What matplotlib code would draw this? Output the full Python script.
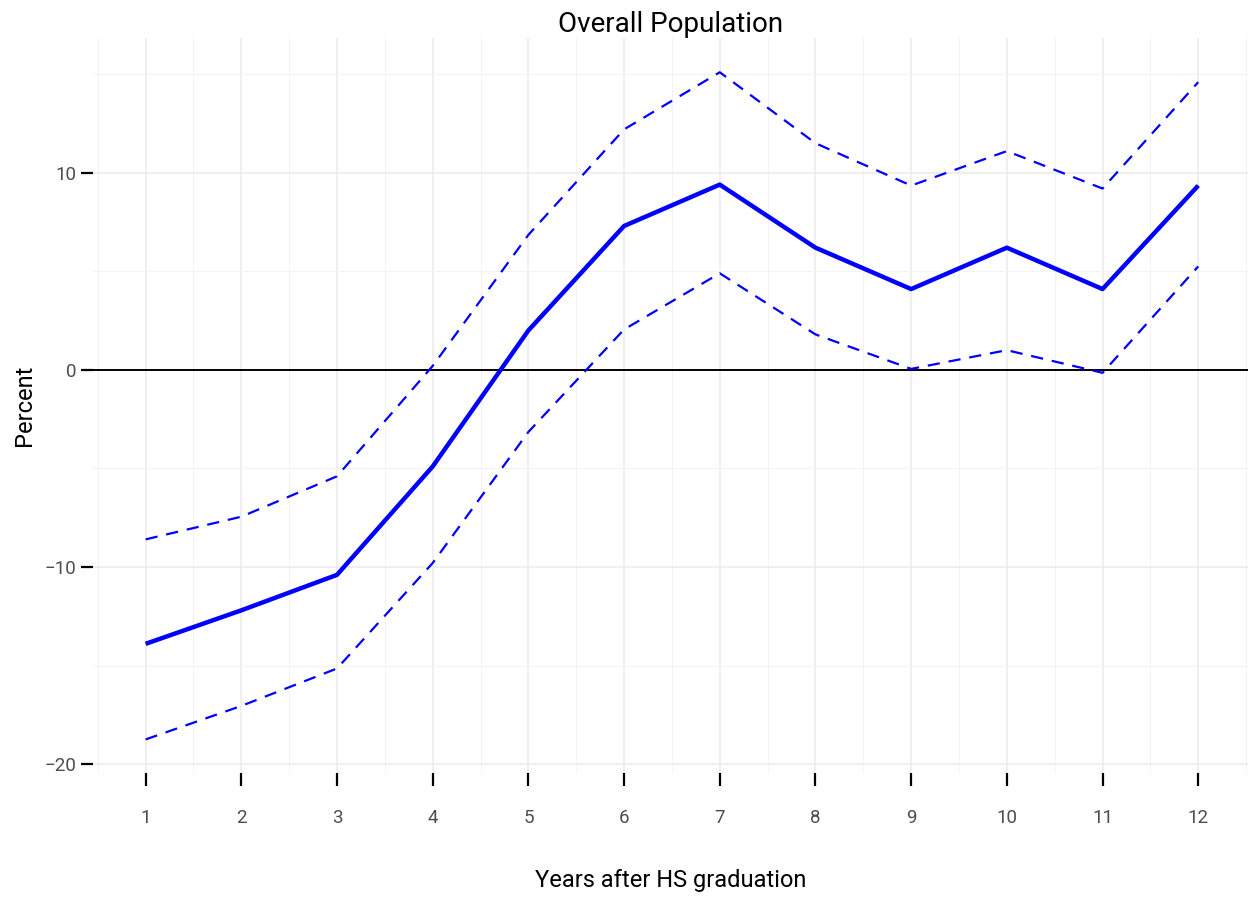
import numpy as np
import matplotlib
matplotlib.use('Agg')
import matplotlib.pyplot as plt
from matplotlib.ticker import MultipleLocator

plt.rcParams['font.family'] = ['Roboto', 'DejaVu Sans']

# data
years = [1, 2, 3, 4, 5, 6, 7, 8, 9, 10, 11, 12]
estimate = [-13.9, -12.2, -10.4, -4.9, 2.0, 7.3, 9.4, 6.2, 4.1, 6.2, 4.1, 9.35]
upper = [-8.6, -7.45, -5.4, 0.2, 6.85, 12.2, 15.1, 11.5, 9.35, 11.1, 9.2, 14.6]
lower = [-18.75, -17.05, -15.15, -9.8, -3.15, 2.05, 4.9, 1.8, 0.05, 1.0, -0.15, 5.25]

fig = plt.figure(figsize=(12.48, 8.99), dpi=100)
ax = fig.add_axes([0.0745, 0.140, 0.9255, 0.818])

ax.plot(years, upper, color='blue', lw=1.6, ls=(0, (5.5, 4)), zorder=3)
ax.plot(years, lower, color='blue', lw=1.6, ls=(0, (5.5, 4)), zorder=3)
ax.plot(years, estimate, color='blue', lw=3.2, solid_capstyle='butt', zorder=4)
ax.axhline(0, color='black', lw=1.4, zorder=2)

ax.set_xlim(0.45, 12.52)
ax.set_ylim(-20.46, 16.85)
ax.set_xticks(years)
ax.set_yticks([-20, -10, 0, 10])
ax.set_yticklabels(['\u221220', '\u221210', '0', '10'])
ax.xaxis.set_minor_locator(MultipleLocator(0.5))
ax.yaxis.set_minor_locator(MultipleLocator(5))

ax.grid(which='major', color='#EBEBEB', lw=1.1)
ax.grid(which='minor', color='#F3F3F3', lw=0.7)
ax.set_axisbelow(True)
for s in ax.spines.values():
    s.set_visible(False)

ax.tick_params(which='major', length=9, width=1.6, color='black',
               labelsize=13.5, labelcolor='#4D4D4D', pad=17)
ax.tick_params(axis='y', which='major', pad=3)
ax.tick_params(which='minor', length=0)

ax.set_title('Overall Population', fontsize=20, pad=3)
ax.set_xlabel('Years after HS graduation', fontsize=17, labelpad=30)
ax.set_ylabel('Percent', fontsize=17, labelpad=6)

fig.savefig('out.png', dpi=100)
